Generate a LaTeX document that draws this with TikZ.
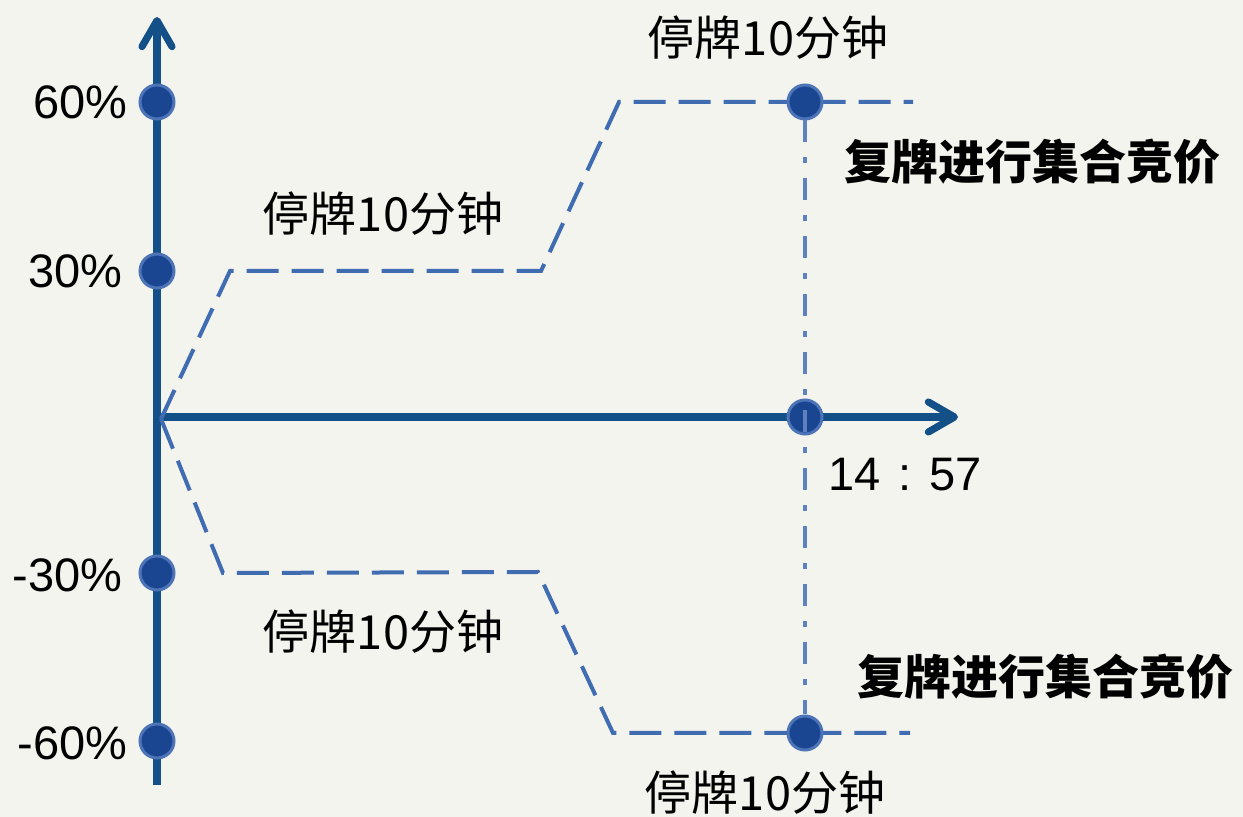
\documentclass[tikz,border=0pt]{standalone}
\usepackage{fontspec}
\setmainfont{Liberation Sans}
\newfontfamily\cjk{Noto Sans CJK SC}
\usetikzlibrary{arrows.meta}
\definecolor{axisblue}{RGB}{18,80,135}
\definecolor{dotblue}{RGB}{26,70,145}
\definecolor{rimblue}{RGB}{78,116,184}
\definecolor{lineblue}{RGB}{64,108,178}
\definecolor{paper}{RGB}{244,244,238}

\begin{document}
\begin{tikzpicture}[x=0.5pt,y=-0.5pt]
	\tikzstyle{axis}=[draw=axisblue,line width=3.6pt,-{Straight Barb[length=13pt,width=15pt,round]}]
	\tikzstyle{dot}=[circle,fill=dotblue,draw=rimblue,line width=1.5pt,minimum size=17pt,inner sep=0pt]
	\tikzstyle{limit}=[draw=lineblue,line width=2pt,dash pattern=on 16pt off 6.5pt]
	\tikzstyle{guide}=[draw=lineblue!85,line width=2pt,dash pattern=on 11pt off 7.5pt on 3pt off 7.5pt]
	\tikzstyle{pct}=[anchor=east,font=\fontsize{23.5}{28}\selectfont,inner sep=0pt]
	\tikzstyle{note}=[font=\cjk\fontsize{23.5}{28}\selectfont,inner sep=0pt]
	\tikzstyle{resume}=[inner sep=0pt,font=\cjk\bfseries\fontsize{23.5}{28}\selectfont]
	
	\fill[paper] (0,0) rectangle (1243,817);
	\useasboundingbox (0,0) rectangle (1243,817);
	
	% axes
	\coordinate (o) at (157,417);
	\coordinate (ybot) at (157,785);
	\coordinate (ytop) at (157,17);
	\coordinate (xend) at (958,417);
	\draw[axis] (ybot) -- (ytop);
	\draw[axis] (o) -- (xend);
	
	% price limits
	\coordinate (s) at (161,419);
	\coordinate (u1) at (230,271);
	\coordinate (u2) at (541,271);
	\coordinate (u3) at (619,102);
	\coordinate (u4) at (913,102);
	\coordinate (d1) at (223,573);
	\coordinate (d2) at (538,572);
	\coordinate (d3) at (613,733);
	\coordinate (d4) at (910,733);
	\draw[limit] (s) -- (u1) -- (u2) -- (u3) -- (u4);
	\draw[limit] (s) -- (d1) -- (d2) -- (d3) -- (d4);
	
	\node[dot] (p60) at (157,102) {};
	\node[dot] (p30) at (157,271) {};
	\node[dot] (m30) at (157,573) {};
	\node[dot] (m60) at (157,741) {};
	\node[dot] (top) at (805,102) {};
	\node[dot] (mid) at (805,417) {};
	\node[dot] (bot) at (805,733) {};
	\draw[guide] (top) -- (bot);
	
	\node[pct] (l60) at (128,102) {60\%};
	\node[pct] (l30) at (123,271) {30\%};
	\node[pct] (lm30) at (123,575) {-30\%};
	\node[pct] (lm60) at (128,743) {-60\%};
	
	\node[note] (n1) at (768,38) {停牌10分钟};
	\node[note] (n2) at (383,214) {停牌10分钟};
	\node[note] (n3) at (383,632) {停牌10分钟};
	\node[note] (n4) at (765,793) {停牌10分钟};
	\node[resume] (r1) at (1032,162) {复牌进行集合竞价};
	\node[resume] (r2) at (1045,677) {复牌进行集合竞价};
	\node[pct,anchor=west] (t) at (828,475) {14\hspace{9pt}:\hspace{9pt}57};
\end{tikzpicture}
\end{document}
